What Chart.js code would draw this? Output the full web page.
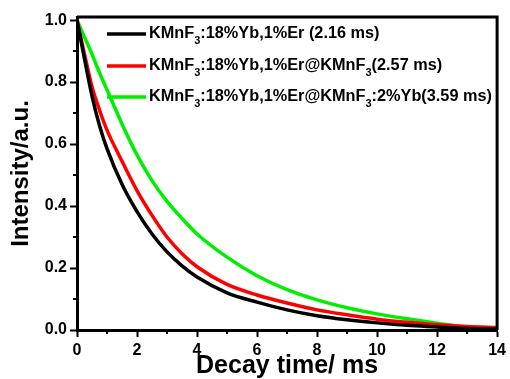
<!DOCTYPE html>
<html><head><meta charset="utf-8">
<script src="https://cdn.jsdelivr.net/npm/chart.js@4/dist/chart.umd.min.js"></script>
<style>html,body{margin:0;padding:0;background:#fff}#wrap{width:510px;height:379px}</style>
</head><body><div id="wrap"><canvas id="c" width="510" height="379"></canvas></div>
<script>
const times = [0,0.25,0.5,0.75,1,1.5,2,2.5,3,3.5,4,5,6,7,8,9,10,11,12,13,14];
const blackVals = [1,0.875,0.755,0.66,0.585,0.47,0.382,0.31,0.252,0.207,0.171,0.12,0.09,0.065,0.046,0.033,0.023,0.015,0.01,0.005,0.003];
const redVals   = [1,0.89,0.785,0.71,0.645,0.545,0.45,0.37,0.3,0.246,0.204,0.147,0.113,0.087,0.065,0.049,0.035,0.025,0.017,0.011,0.008];
const greenVals = [1,0.945,0.89,0.83,0.775,0.665,0.565,0.482,0.415,0.36,0.31,0.235,0.175,0.13,0.097,0.072,0.052,0.036,0.022,0.01,0.004];
const legendParts = [
  [["KMnF",""],["3","sub"],[":18%Yb,1%Er (2.16 ms)",""]],
  [["KMnF",""],["3","sub"],[":18%Yb,1%Er@KMnF",""],["3","sub"],["(2.57 ms)",""]],
  [["KMnF",""],["3","sub"],[":18%Yb,1%Er@KMnF",""],["3","sub"],[":2%Yb(3.59 ms)",""]]
];
const seriesColors = ["#000000","#ff0000","#00ee00"];
const xTicks = [0,2,4,6,8,10,12,14];
const yTicks = [0,0.2,0.4,0.6,0.8,1.0];

const FONT = '"Liberation Sans", Arial, sans-serif';
function mk(vals){return times.map((t,i)=>({x:t,y:vals[i]}));}

const framePlugin = {
  id:'frame',
  afterDraw(chart){
    const {ctx, chartArea:a, scales:{x,y}} = chart;
    ctx.save();
    ctx.strokeStyle='#000';
    ctx.lineWidth=3;
    ctx.beginPath();
    ctx.moveTo(a.left, a.top); ctx.lineTo(a.right, a.top); ctx.lineTo(a.right, a.bottom);
    ctx.stroke();
    ctx.lineWidth=2;
    ctx.beginPath();
    for(let v=1; v<14; v+=2){ const px=x.getPixelForValue(v); ctx.moveTo(px,a.bottom); ctx.lineTo(px,a.bottom+4); }
    for(let v=0.1; v<1; v+=0.2){ const py=y.getPixelForValue(v); ctx.moveTo(a.left,py); ctx.lineTo(a.left-4,py); }
    ctx.stroke();
    const rows=[34,66,97];
    legendParts.forEach((parts,i)=>{
      const ry=rows[i];
      ctx.strokeStyle=seriesColors[i]; ctx.lineWidth=3.5;
      ctx.beginPath(); ctx.moveTo(107,ry); ctx.lineTo(146,ry); ctx.stroke();
      let cx=149;
      ctx.fillStyle='#000'; ctx.textBaseline='middle';
      parts.forEach(([t,k])=>{
        if(k==='sub'){ ctx.font='bold 11px '+FONT; ctx.fillText(t,cx,ry+7); }
        else { ctx.font='bold 16.3px '+FONT; ctx.fillText(t,cx,ry); }
        cx+=ctx.measureText(t).width;
      });
    });
    ctx.restore();
  }
};

new Chart(document.getElementById('c'),{
  type:'line',
  data:{datasets:[
    {data:mk(blackVals),borderColor:seriesColors[0],borderWidth:3.5,pointRadius:0,cubicInterpolationMode:'monotone'},
    {data:mk(redVals),borderColor:seriesColors[1],borderWidth:3.5,pointRadius:0,cubicInterpolationMode:'monotone'},
    {data:mk(greenVals),borderColor:seriesColors[2],borderWidth:3.5,pointRadius:0,cubicInterpolationMode:'monotone'}
  ]},
  options:{
    responsive:false,animation:false,
    layout:{padding:{top:17,right:9,left:0,bottom:0}},
    plugins:{legend:{display:false},tooltip:{enabled:false}},
    scales:{
      x:{type:'linear',min:0,max:14,
        afterBuildTicks(s){s.ticks=xTicks.map(v=>({value:v}));},
        afterFit(s){s.height=49;},
        grid:{drawOnChartArea:false,tickLength:7,tickWidth:2,tickColor:'#000'},
        border:{color:'#000',width:3},
        ticks:{color:'#000',font:{family:FONT,weight:'bold',size:16},padding:4,maxRotation:0},
        title:{display:true,text:'Decay time/ ms',color:'#000',font:{family:FONT,weight:'bold',size:25},padding:{top:0,bottom:-2}}
      },
      y:{min:0,max:1.01,
        afterBuildTicks(s){s.ticks=yTicks.map(v=>({value:v}));},
        afterFit(s){s.width=77;},
        grid:{drawOnChartArea:false,tickLength:7,tickWidth:2,tickColor:'#000'},
        border:{color:'#000',width:3},
        ticks:{color:'#000',font:{family:FONT,weight:'bold',size:16},padding:3,callback:v=>v.toFixed(1)},
        title:{display:true,text:'Intensity/a.u.',color:'#000',font:{family:FONT,weight:'bold',size:24},padding:{top:7,bottom:0}}
      }
    }
  },
  plugins:[framePlugin]
});
</script></body></html>
